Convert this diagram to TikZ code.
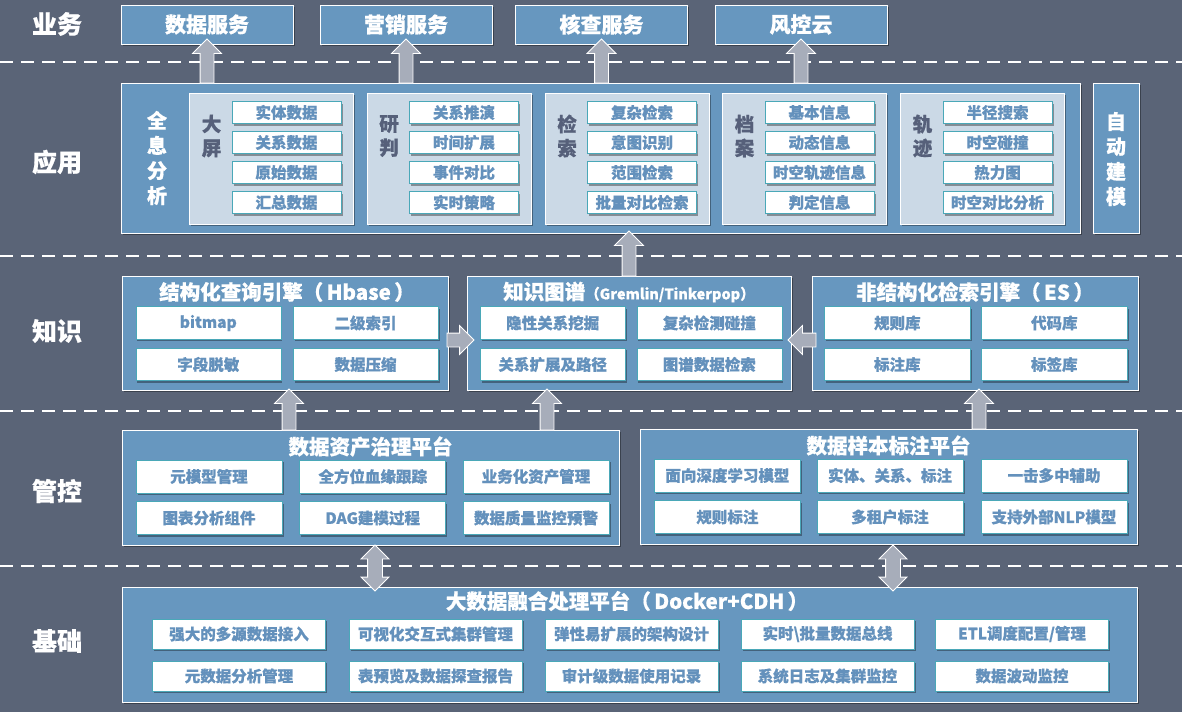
\documentclass[tikz,border=0pt]{standalone}
\usepackage{fontspec}
\setmainfont{Noto Sans CJK SC}[BoldFeatures={FakeBold=0.6}]
\usetikzlibrary{shapes.arrows,shadows}
\definecolor{bgc}{HTML}{5A6477}
\definecolor{boxc}{HTML}{6797BF}
\definecolor{panelc}{HTML}{CBD9E6}
\definecolor{itemtxt}{HTML}{6491BC}
\definecolor{itembd}{HTML}{4AA8B8}
\definecolor{arrc}{HTML}{A7ADBA}
\definecolor{lbldark}{HTML}{56607A}
\newcommand{\fsz}[1]{\fontsize{#1}{#1}\selectfont}
\begin{document}
\begin{tikzpicture}[x=1pt,y=-1pt,
  every node/.style={font=\bfseries, inner sep=0pt, outer sep=0pt},
  shd/.style={drop shadow={shadow xshift=1.5pt, shadow yshift=-2pt, fill=black, opacity=0.35}},
  lay/.style={text=white, font=\bfseries\fsz{25}},
  svc/.style={draw=white, line width=0.8pt, fill=boxc, minimum width=172, minimum height=39, text=white, font=\bfseries\fsz{21}, shd},
  big/.style={draw=white, line width=0.8pt, fill=boxc, shd},
  panel/.style={draw=white, line width=0.6pt, fill=panelc, minimum width=164, minimum height=131, shd},
  plbl/.style={text=lbldark, align=center, font=\bfseries\fontsize{19.5}{24}\selectfont},
  wlbl/.style={text=white, align=center, font=\bfseries\fontsize{20}{25}\selectfont},
  ttl/.style={text=white, font=\bfseries\fsz{20.5}},
  item/.style={draw=itembd, line width=0.6pt, fill=white, text=itemtxt, font=\bfseries\fsz{15.5}, shd},
  appitem/.style={item, minimum width=109, minimum height=22},
  kitem/.style={item, minimum width=145, minimum height=32.5},
  gitem/.style={item, minimum width=146, minimum height=33},
  bitem/.style={item, minimum width=173, minimum height=30},
  arr/.style={single arrow, draw=white, line width=0.8pt, fill=arrc, inner sep=6.5pt, minimum width=0pt, single arrow head extend=7.5pt, single arrow tip angle=90, anchor=tail},
  uarr/.style={arr, shape border rotate=90},
  rarr/.style={arr, shape border rotate=0},
  larr/.style={arr, shape border rotate=180},
  darr/.style={double arrow, shape border rotate=90, draw=white, line width=0.8pt, fill=arrc, inner sep=7pt, minimum width=0pt, double arrow head extend=6.5pt, double arrow tip angle=90, minimum height=46},
  sep/.style={white, line width=2pt, dash pattern=on 13pt off 8pt}
]
\fill[bgc] (0,0) rectangle (1182,712);
\useasboundingbox (0,0) rectangle (1182,712);

% separators
\draw[sep] (0,62) -- (1182,62);
\draw[sep] (0,256) -- (1182,256);
\draw[sep] (0,411) -- (1182,411);
\draw[sep] (0,566) -- (1182,566);

% layer labels
\node[lay] (L1) at (57,24) {业务};
\node[lay] (L2) at (57,162) {应用};
\node[lay] (L3) at (57,331) {知识};
\node[lay] (L4) at (57,491) {管控};
\node[lay] (L5) at (57,641) {基础};

% services
\node[svc] (svc1) at (207,24.5) {数据服务};
\node[svc] (svc2) at (406,24.5) {营销服务};
\node[svc] (svc3) at (601.5,24.5) {核查服务};
\node[svc] (svc4) at (801,24.5) {风控云};

% application
\node[big, minimum width=959, minimum height=150] (app) at (600.5,158) {};
\node[big, minimum width=46, minimum height=150] (auto) at (1116,158) {};
\node[wlbl] (autot) at (1116,159) {自\\动\\建\\模};
\node[wlbl] (qxfx) at (157,158) {全\\息\\分\\析};

\node[panel] (p1) at (271.5,158.5) {};
\node[panel] (p2) at (449,158.5) {};
\node[panel] (p3) at (627,158.5) {};
\node[panel] (p4) at (804.5,158.5) {};
\node[panel] (p5) at (982.5,158.5) {};
\node[plbl] (p1l) at (211.5,136) {大\\屏};
\node[plbl] (p2l) at (389,136) {研\\判};
\node[plbl] (p3l) at (567,136) {检\\索};
\node[plbl] (p4l) at (744.5,136) {档\\案};
\node[plbl] (p5l) at (922.5,136) {轨\\迹};
\foreach \t [count=\i] in {实体数据,关系数据,原始数据,汇总数据}
  \node[appitem] (p1i\i) at (286.5,82.5+30*\i) {\t};
\foreach \t [count=\i] in {关系推演,时间扩展,事件对比,实时策略}
  \node[appitem] (p2i\i) at (464,82.5+30*\i) {\t};
\foreach \t [count=\i] in {复杂检索,意图识别,范围检索,批量对比检索}
  \node[appitem] (p3i\i) at (642,82.5+30*\i) {\t};
\foreach \t [count=\i] in {基本信息,动态信息,时空轨迹信息,判定信息}
  \node[appitem] (p4i\i) at (819.5,82.5+30*\i) {\t};
\foreach \t [count=\i] in {半径搜索,时空碰撞,热力图,时空对比分析}
  \node[appitem] (p5i\i) at (997.5,82.5+30*\i) {\t};

% knowledge
\node[big, minimum width=326, minimum height=114] (k1) at (285,333) {};
\node[big, minimum width=324, minimum height=114] (k2) at (629,333) {};
\node[big, minimum width=326, minimum height=114] (k3) at (975,333) {};
\node[ttl] (k1t) at (287,292) {结构化查询引擎（\,Hbase\,）};
\node[ttl] (k2t) at (629,292) {知识图谱{\fsz{14.5}（Gremlin/Tinkerpop）}};
\node[ttl] (k3t) at (975,292) {非结构化检索引擎（\,ES\,）};
\node[kitem] (k1a) at (208.3,323) {bitmap};
\node[kitem] (k1b) at (365.5,323) {二级索引};
\node[kitem] (k1c) at (208.3,364.5) {字段脱敏};
\node[kitem] (k1d) at (365.5,364.5) {数据压缩};
\node[kitem] (k2a) at (552.7,323) {隐性关系挖掘};
\node[kitem] (k2b) at (709.3,323) {复杂检测碰撞};
\node[kitem] (k2c) at (552.7,364.5) {关系扩展及路径};
\node[kitem] (k2d) at (709.3,364.5) {图谱数据检索};
\node[kitem, minimum width=146] (k3a) at (897.3,323) {规则库};
\node[kitem, minimum width=146] (k3b) at (1054.3,323) {代码库};
\node[kitem, minimum width=146] (k3c) at (897.3,364.5) {标注库};
\node[kitem, minimum width=146] (k3d) at (1054.3,364.5) {标签库};

% governance
\node[big, minimum width=497, minimum height=115] (g1) at (370.5,487.5) {};
\node[big, minimum width=497, minimum height=115] (g2) at (888.5,486.5) {};
\node[ttl] (g1t) at (370.5,446.5) {数据资产治理平台};
\node[ttl] (g2t) at (888.5,445.5) {数据样本标注平台};
\node[gitem] (g1a) at (209,476.5) {元模型管理};
\node[gitem] (g1b) at (372.7,476.5) {全方位血缘跟踪};
\node[gitem] (g1c) at (536,476.5) {业务化资产管理};
\node[gitem] (g1d) at (209,518) {图表分析组件};
\node[gitem] (g1e) at (372.7,518) {DAG建模过程};
\node[gitem] (g1f) at (536,518) {数据质量监控预警};
\node[gitem] (g2a) at (727.4,475.5) {面向深度学习模型};
\node[gitem] (g2b) at (890,475.5) {实体、关系、标注};
\node[gitem] (g2c) at (1054,475.5) {一击多中辅助};
\node[gitem] (g2d) at (727.4,517) {规则标注};
\node[gitem] (g2e) at (890,517) {多租户标注};
\node[gitem] (g2f) at (1054,517) {支持外部NLP模型};

% base
\node[big, minimum width=1015, minimum height=115] (b) at (629.5,644.5) {};
\node[ttl] (bt) at (627,601) {大数据融合处理平台（\,Docker+CDH\,）};
\node[bitem] (b1) at (239,634) {强大的多源数据接入};
\node[bitem] (b2) at (435.5,634) {可视化交互式集群管理};
\node[bitem] (b3) at (631.5,634) {弹性易扩展的架构设计};
\node[bitem] (b4) at (827.5,634) {实时\textbackslash 批量数据总线};
\node[bitem] (b5) at (1022,634) {ETL调度配置/管理};
\node[bitem] (b6) at (239,676) {元数据分析管理};
\node[bitem] (b7) at (435.5,676) {表预览及数据探查报告};
\node[bitem] (b8) at (631.5,676) {审计级数据使用记录};
\node[bitem] (b9) at (827.5,676) {系统日志及集群监控};
\node[bitem] (b10) at (1022,676) {数据波动监控};

% arrows
\node[uarr, minimum height=44] (ua1) at (svc1.south |- app.north) {};
\node[uarr, minimum height=44] (ua2) at (svc2.south |- app.north) {};
\node[uarr, minimum height=44] (ua3) at (svc3.south |- app.north) {};
\node[uarr, minimum height=44] (ua4) at (svc4.south |- app.north) {};
\node[uarr, minimum height=45] (uk) at (k2.north) {};
\node[uarr, minimum height=41] (ug1) at (289,430) {};
\node[uarr, minimum height=41] (ug2) at (547,430) {};
\node[uarr, minimum height=40] (ug3) at (979,429) {};
\node[rarr, minimum height=27] (rk) at (447,340) {};
\node[larr, minimum height=28] (lk) at (816,340) {};
\node[darr] (da1) at (375,568) {};
\node[darr] (da2) at (893,568) {};
\end{tikzpicture}
\end{document}
